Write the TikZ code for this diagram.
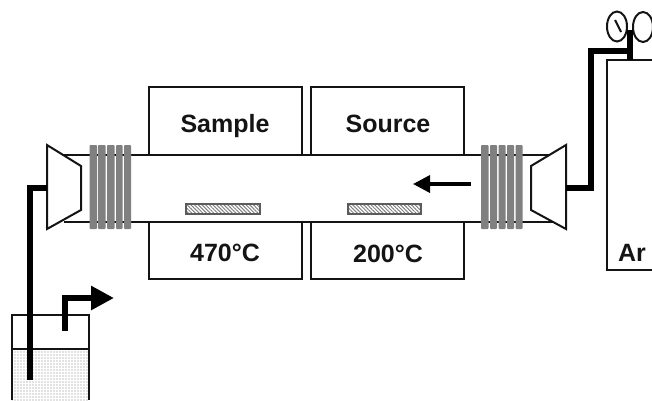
\documentclass[tikz,border=0pt]{standalone}
\usepackage{fontspec}
\setmainfont{Liberation Sans}
\usetikzlibrary{patterns.meta,arrows.meta}
\definecolor{coilgray}{gray}{0.5}
\definecolor{ink}{gray}{0.08}
\tikzset{
  x=1pt,y=-1pt,
  outline/.style={draw=ink,line width=1.7pt,line join=miter},
  furnace/.style={outline,fill=white},
  coil/.style={fill=coilgray,draw=none,rounded corners=0.8pt},
  flange/.style={outline,fill=white,line width=2pt},
  pipe/.style={draw=black,line width=6pt,line join=miter},
  label/.style={font=\bfseries\fontsize{25}{27}\selectfont,text=ink,inner sep=0pt,anchor=base},
  holder/.style={draw=ink!70,line width=1.1pt,pattern={Lines[angle=-45,distance=2.6pt,line width=1pt]},pattern color=gray},
  tubewall/.style={draw=ink,line width=1.7pt},
}
\begin{document}
\begin{tikzpicture}
\useasboundingbox (0,0) rectangle (652,400);
% furnaces
\draw[furnace] (149,87) rectangle (302,155);
\draw[furnace] (311,87) rectangle (464,155);
\draw[furnace] (149,222) rectangle (302,279);
\draw[furnace] (311,222) rectangle (464,279);
% tube
\coordinate (tubeTL) at (64,155); \coordinate (tubeTR) at (558,155);
\coordinate (tubeBL) at (64,222); \coordinate (tubeBR) at (558,222);
\draw[tubewall] (tubeTL) -- (tubeTR);
\draw[tubewall] (tubeBL) -- (tubeBR);
% coils
\foreach \a/\b in {89.5/97,98/105.5,107/114.5,116/122.5,124/131,481/488.5,490/497,498.5/505.5,507/514,515.5/522.5}
  \fill[coil] (\a,145) rectangle (\b,229);
% flanges
\draw[flange] (47,145) -- (81,166) -- (81,210) -- (47,229) -- cycle;
\draw[flange] (566,145) -- (531,166) -- (531,210) -- (566,229) -- cycle;
% labels
\node[label] (sample) at (225,132) {Sample};
\node[label] (source) at (388,132) {Source};
\node[label] (t1) at (225,261) {470°C};
\node[label] (t2) at (388,262) {200°C};
% sample holders
\path[holder] (186,204) rectangle (260,214);
\path[holder] (348,204) rectangle (421,214);
% flow arrow
\coordinate (flowS) at (471,184); \coordinate (flowE) at (413,184);
\draw[draw=black,line width=3.5pt,-{Triangle[length=17pt,width=17pt]}] (flowS) -- (flowE);
% beaker
\fill[pattern={Dots[distance=3pt,radius=0.6pt]},pattern color=gray] (12,349) rectangle (89,400);
\draw[outline,line width=1.4pt] (12,400) -- (12,315) -- (89,315) -- (89,400);
\draw[draw=ink,line width=1.2pt] (12,349) -- (89,349);
% pipes
\coordinate (flL) at (47,187.5); \coordinate (dip) at (30,380);
\draw[pipe] (flL) -| (dip);
\coordinate (outS) at (65,331); \coordinate (outE) at (114,298);
\draw[pipe,-{Triangle[length=23pt,width=23pt]}] (outS) |- (outE);
\coordinate (flR) at (566,187.5); \coordinate (mid) at (591,50.5); \coordinate (reg) at (630,50.5); \coordinate (regT) at (630,30); \coordinate (cylT) at (630,60);
\draw[pipe] (flR) -| (mid) -- (reg);
% cylinder
\draw[outline] (652,60) -- (607,60) -- (607,270) -- (652,270);
% gauges
\draw[outline,line width=2pt,fill=white] (617,26.5) ellipse (10 and 15);
\draw[outline,line width=2pt,fill=white] (643,27) ellipse (10 and 15);
\draw[draw=ink,line width=2pt] (615,20) -- (621,32);
\draw[pipe,line width=6.5pt] (regT) -- (cylT);
\node[label] (ar) at (632,261) {Ar};
\end{tikzpicture}
\end{document}
